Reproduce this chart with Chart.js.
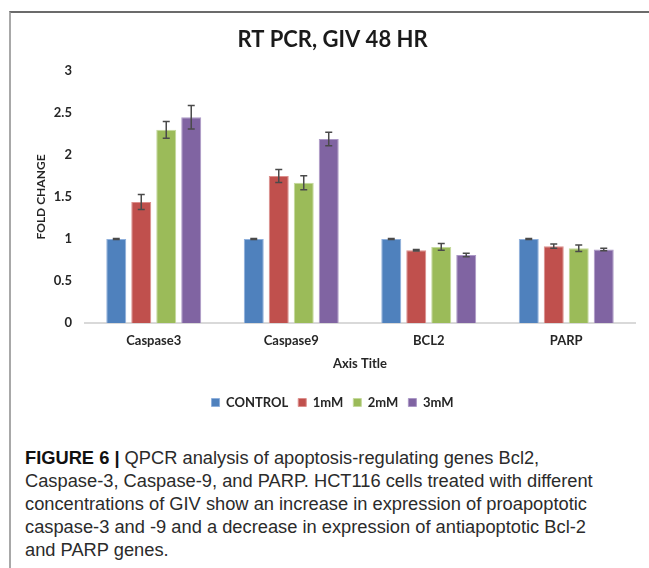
<!DOCTYPE html>
<html lang="en">
<head>
  <meta charset="UTF-8" />
  <title>RT PCR, GIV 48 HR</title>
  <script src="https://cdn.jsdelivr.net/npm/chart.js"></script>
  <style>
    body {
      margin: 0;
      width: 649px;
      height: 568px;
      overflow: hidden;
      background: #fff;
      position: relative;
    }
    .frame {
      position: absolute;
      left: 9px;
      top: 11px;
      width: 660px;
      height: 600px;
      border-top: 2px solid #6b6b6b;
      border-left: 2px solid #a8a8a8;
    }
    .chart-box {
      position: absolute;
      left: 0;
      top: 0;
      width: 649px;
      height: 425px;
    }
    .caption {
      position: absolute;
      left: 25px;
      top: 446px;
      font-family: "Liberation Sans", Arial, sans-serif;
      font-size: 18.3px;
      line-height: 23px;
      color: #2b2b2b;
      white-space: nowrap;
    }
    .caption b { color: #111; }
  </style>
</head>
<body>
  <div class="frame"></div>
  <div class="chart-box"><canvas id="pcrChart"></canvas></div>
  <div class="caption">
    <b>FIGURE 6 |</b> QPCR analysis of apoptosis-regulating genes Bcl2,<br>
    Caspase-3, Caspase-9, and PARP. HCT116 cells treated with different<br>
    concentrations of GIV show an increase in expression of proapoptotic<br>
    caspase-3 and -9 and a decrease in expression of antiapoptotic Bcl-2<br>
    and PARP genes.
  </div>

  <script>
    // data
    const genes = ['Caspase3', 'Caspase9', 'BCL2', 'PARP'];
    const seriesNames = ['CONTROL', '1mM', '2mM', '3mM'];

    const control = [1.0, 1.0, 1.0, 1.0];
    const mM1 = [1.44, 1.75, 0.866, 0.914];
    const mM2 = [2.30, 1.67, 0.906, 0.89];
    const mM3 = [2.45, 2.19, 0.81, 0.874];

    const controlErr = [0.005, 0.005, 0.005, 0.005];
    const mM1Err = [0.09, 0.078, 0.01, 0.025];
    const mM2Err = [0.10, 0.084, 0.04, 0.038];
    const mM3Err = [0.14, 0.08, 0.02, 0.015];

    const yTicks = [0, 0.5, 1, 1.5, 2, 2.5, 3];

    const fills = ['#4f81bd', '#c0504d', '#9bbb59', '#8064a2'];
    const edges = ['#8fb0dc', '#dc8f8c', '#c4d99c', '#ab98c6'];

    const values = [control, mM1, mM2, mM3];
    const errors = [controlErr, mM1Err, mM2Err, mM3Err];

    const chartFont = 'Lato, "Open Sans", sans-serif';
    const textCol = '#262626';

    // error bars drawn through the y scale
    const errorBars = {
      id: 'errorBars',
      afterDatasetsDraw(chart) {
        const ctx = chart.ctx;
        const y = chart.scales.y;
        ctx.save();
        ctx.strokeStyle = '#4a4a4a';
        ctx.lineWidth = 1.5;
        chart.data.datasets.forEach((ds, i) => {
          const meta = chart.getDatasetMeta(i);
          meta.data.forEach((bar, j) => {
            const v = ds.data[j];
            const e = ds.errors[j];
            const top = y.getPixelForValue(v + e);
            const bot = y.getPixelForValue(v - e);
            const x = bar.x;
            ctx.beginPath();
            ctx.moveTo(x, top); ctx.lineTo(x, bot);
            ctx.moveTo(x - 3.5, top); ctx.lineTo(x + 3.5, top);
            ctx.moveTo(x - 3.5, bot); ctx.lineTo(x + 3.5, bot);
            ctx.stroke();
          });
        });
        ctx.restore();
      }
    };

    new Chart(document.getElementById('pcrChart'), {
      type: 'bar',
      data: {
        labels: genes,
        datasets: seriesNames.map((name, i) => ({
          label: name,
          data: values[i],
          errors: errors[i],
          backgroundColor: fills[i],
          borderColor: edges[i],
          borderWidth: 1,
          categoryPercentage: 0.727,
          barPercentage: 0.8
        }))
      },
      options: {
        responsive: true,
        maintainAspectRatio: false,
        animation: false,
        layout: { padding: { left: 30, right: 14, top: 0, bottom: 6 } },
        plugins: {
          title: {
            display: true,
            text: 'RT PCR, GIV 48 HR',
            color: '#1a1a1a',
            font: { family: chartFont, size: 22, weight: 'bold' },
            padding: { top: 27, bottom: 17.6 }
          },
          legend: {
            position: 'bottom',
            labels: {
              boxWidth: 8,
              boxHeight: 8,
              padding: 10,
              color: textCol,
              font: { family: chartFont, size: 13, weight: 'bold' }
            }
          },
          tooltip: { enabled: false }
        },
        scales: {
          x: {
            afterFit(scale) { scale.height = 63; },
            grid: { display: false, drawTicks: false },
            border: { display: true, color: '#d9d9d9', width: 2 },
            ticks: {
              padding: 10,
              color: textCol,
              font: { family: chartFont, size: 13, weight: 'bold' }
            },
            title: {
              display: true,
              text: 'Axis Title',
              color: textCol,
              font: { family: chartFont, size: 13, weight: 'bold' },
              padding: { top: 0, bottom: 14.4 }
            }
          },
          y: {
            min: 0,
            max: 3,
            afterFit(scale) { scale.width = 55; },
            afterBuildTicks(scale) { scale.ticks = yTicks.map(v => ({ value: v })); },
            grid: { display: false, drawTicks: false },
            border: { display: false },
            ticks: {
              padding: 13,
              color: textCol,
              font: { family: chartFont, size: 13, weight: 'bold' },
              callback: v => String(v)
            },
            title: {
              display: true,
              text: 'FOLD CHANGE',
              color: textCol,
              font: { family: chartFont, size: 12, weight: 'bold' },
              padding: { top: 4, bottom: 0 }
            }
          }
        }
      },
      plugins: [errorBars]
    });
  </script>
</body>
</html>
